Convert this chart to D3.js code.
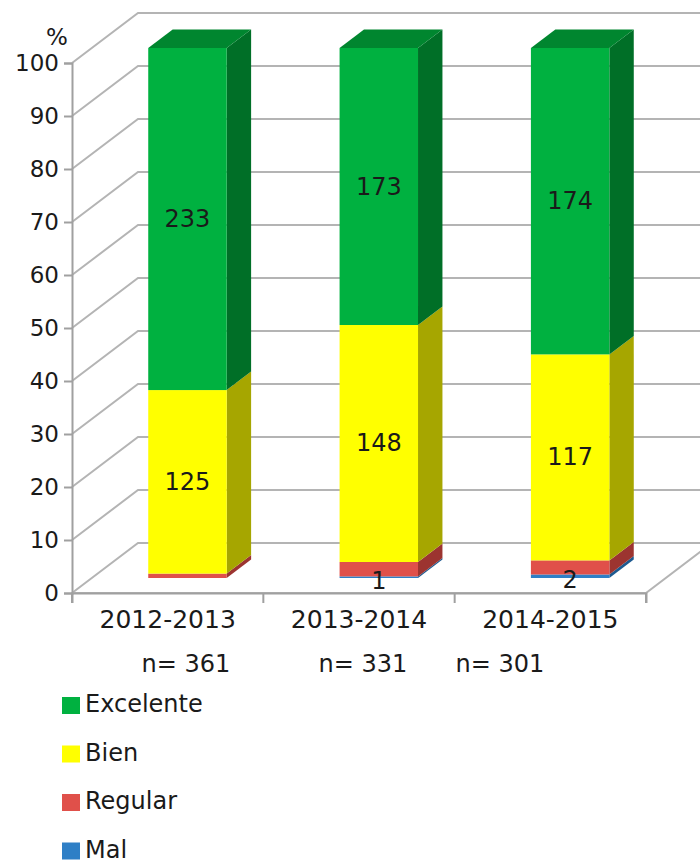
<!DOCTYPE html>
<html>
<head>
<meta charset="utf-8">
<script src="https://cdn.jsdelivr.net/npm/d3@7/dist/d3.min.js"></script>
<style>
  html, body { margin: 0; padding: 0; background: #fff; }
  text { font-family: 'DejaVu Sans', Verdana, sans-serif; fill: #1a1a1a; }
</style>
</head>
<body>
<div id="chart"></div>
<script>
// data (counts per course)
const categories = ['2012-2013', '2013-2014', '2014-2015'];
const sampleSizes = [361, 331, 301];
const seriesNames = ['Excelente', 'Bien', 'Regular', 'Mal'];
const excelente = [233, 173, 174];
const bien = [125, 148, 117];
const regular = [3, 9, 8];
const mal = [0, 1, 2];
const yTicks = [0, 10, 20, 30, 40, 50, 60, 70, 80, 90, 100];
// which series get a count label on the bar
const labelled = ['Excelente', 'Bien', 'Mal'];

const cfg = {
  w: 700,
  h: 862,
  fontSize: 23,
  labelSize: 24,
  catSize: 25,
  depth: { x: 66, y: -50 },     // depth of the 3d box
  barFront: 0.3,                // bar position inside the box depth
  barBack: 0.67,
  barWidth: 0.41,               // fraction of band
  colors: {
    Excelente: { front: '#00b140', top: '#00862f', side: '#006f27' },
    Bien: { front: '#ffff00', top: '#c8c800', side: '#a6a600' },
    Regular: { front: '#e0504a', top: '#b8403c', side: '#9c3430' },
    Mal: { front: '#2e7fc6', top: '#246aa8', side: '#1d5a90' }
  }
};

let svg = d3
  .select('#chart')
  .append('svg')
  .attr('width', cfg.w)
  .attr('height', cfg.h);

let x = d3.scaleBand().domain(categories).range([72, 646]);
let y = d3.scaleLinear().domain([0, 100]).range([593, 63]);

// project a front-plane point t of the way into the box
const proj = (px, py, t) => [px + cfg.depth.x * t, py + cfg.depth.y * t];

/////////////////////////////////////////////////////////
////////////////////// Grid / box ///////////////////////
/////////////////////////////////////////////////////////

let grid = svg.append('g').attr('class', 'grid')
  .style('stroke', '#b4b4b4')
  .style('stroke-width', 2)
  .style('fill', 'none');

let xEnd = x.range()[1];
let xStart = x.range()[0];

grid.selectAll('.diag')
  .data(yTicks)
  .enter()
  .append('path')
  .attr('d', d => {
    let b = proj(xStart, y(d), 1);
    return `M${xStart},${y(d)}L${b[0]},${b[1]}L${xEnd + cfg.depth.x},${b[1]}`;
  });

// floor
grid.append('path')
  .attr('d', `M${xStart},${y(0)}L${xEnd},${y(0)}L${xEnd + cfg.depth.x},${y(0) + cfg.depth.y}`);

/////////////////////////////////////////////////////////
//////////////////////// Axes ///////////////////////////
/////////////////////////////////////////////////////////

let yAxis = svg.append('g')
  .attr('transform', `translate(${xStart},0)`)
  .call(d3.axisLeft(y).tickValues(yTicks).tickSize(8).tickPadding(5));

let xAxis = svg.append('g')
  .attr('transform', `translate(0,${y(0)})`)
  .call(d3.axisBottom(x).tickSize(10).tickPadding(8).tickFormat(''));

[yAxis, xAxis].forEach(a => {
  a.select('.domain').style('stroke', '#a0a0a0').style('stroke-width', 2);
  a.selectAll('.tick line').style('stroke', '#a0a0a0').style('stroke-width', 2);
  a.selectAll('text')
    .style('font-size', cfg.fontSize + 'px')
    .style('font-family', "'DejaVu Sans', Verdana, sans-serif")
    .attr('fill', '#1a1a1a');
});

// x ticks sit on band edges
xAxis.selectAll('.tick').remove();
xAxis.selectAll('.edge')
  .data(categories.map(c => x(c)).concat([xEnd]))
  .enter()
  .append('line')
  .attr('x1', d => d).attr('x2', d => d)
  .attr('y1', 0).attr('y2', 10)
  .style('stroke', '#a0a0a0').style('stroke-width', 2);

xAxis.selectAll('.cat')
  .data(categories)
  .enter()
  .append('text')
  .attr('x', d => x(d) + x.bandwidth() / 2)
  .attr('y', 35)
  .attr('text-anchor', 'middle')
  .style('font-size', cfg.catSize + 'px')
  .text(d => d);

svg.append('text')
  .attr('x', 57)
  .attr('y', 45)
  .attr('text-anchor', 'middle')
  .style('font-size', cfg.fontSize + 'px')
  .text('%');

// sample sizes under the axis
svg.selectAll('.nsize')
  .data(sampleSizes)
  .enter()
  .append('text')
  .attr('x', (d, i) => [186, 363, 500][i])
  .attr('y', 672)
  .attr('text-anchor', 'middle')
  .style('font-size', cfg.labelSize + 'px')
  .text(d => 'n= ' + d);

/////////////////////////////////////////////////////////
//////////////////////// Bars ///////////////////////////
/////////////////////////////////////////////////////////

let rows = categories.map((c, i) => ({
  cat: c,
  n: sampleSizes[i],
  Excelente: excelente[i],
  Bien: bien[i],
  Regular: regular[i],
  Mal: mal[i]
}));

let stackOrder = ['Mal', 'Regular', 'Bien', 'Excelente'];
let stacked = d3.stack()
  .keys(stackOrder)
  .value((d, k) => d[k] / d.n * 100)(rows);

let bars = svg.append('g').attr('class', 'bars');
let bw = x.bandwidth() * cfg.barWidth;
let dd = cfg.barBack - cfg.barFront;

stacked.forEach((layer, li) => {
  let col = cfg.colors[layer.key];
  layer.forEach((seg, ci) => {
    if (seg[1] - seg[0] <= 0) return;
    let cx = x(seg.data.cat) + x.bandwidth() / 2;
    let f0 = proj(cx - bw / 2, y(seg[0]), cfg.barFront);
    let f1 = proj(cx + bw / 2, y(seg[1]), cfg.barFront);
    let ox = cfg.depth.x * dd, oy = cfg.depth.y * dd;
    let g = bars.append('g');
    // side
    g.append('path')
      .attr('d', `M${f1[0]},${f0[1]}L${f1[0] + ox},${f0[1] + oy}L${f1[0] + ox},${f1[1] + oy}L${f1[0]},${f1[1]}Z`)
      .style('fill', col.side);
    // front
    g.append('rect')
      .attr('x', f0[0])
      .attr('y', f1[1])
      .attr('width', f1[0] - f0[0])
      .attr('height', f0[1] - f1[1])
      .style('fill', col.front);
    // top only on the last segment
    if (li === stacked.length - 1) {
      g.append('path')
        .attr('d', `M${f0[0]},${f1[1]}L${f1[0]},${f1[1]}L${f1[0] + ox},${f1[1] + oy}L${f0[0] + ox},${f1[1] + oy}Z`)
        .style('fill', col.top);
    }
  });
});

// count labels
stacked.forEach(layer => {
  if (labelled.indexOf(layer.key) < 0) return;
  layer.forEach(seg => {
    let v = seg.data[layer.key];
    if (!v) return;
    let cx = x(seg.data.cat) + x.bandwidth() / 2;
    let p = proj(cx, y((seg[0] + seg[1]) / 2), cfg.barFront);
    svg.append('text')
      .attr('x', p[0])
      .attr('y', layer.key === 'Mal' ? p[1] + 4 : p[1])
      .attr('text-anchor', 'middle')
      .attr('dominant-baseline', 'central')
      .style('font-size', cfg.labelSize + 'px')
      .text(v);
  });
});

/////////////////////////////////////////////////////////
/////////////////////// Legend //////////////////////////
/////////////////////////////////////////////////////////

let legend = svg.append('g').attr('transform', 'translate(62,697)');
legend.selectAll('rect')
  .data(seriesNames)
  .enter()
  .append('rect')
  .attr('x', 0)
  .attr('y', (d, i) => i * 48.5)
  .attr('width', 18)
  .attr('height', 17)
  .style('fill', d => cfg.colors[d].front);
legend.selectAll('text')
  .data(seriesNames)
  .enter()
  .append('text')
  .attr('x', 23)
  .attr('y', (d, i) => i * 48.5 + 15)
  .style('font-size', cfg.labelSize + 'px')
  .text(d => d);
</script>
</body>
</html>
